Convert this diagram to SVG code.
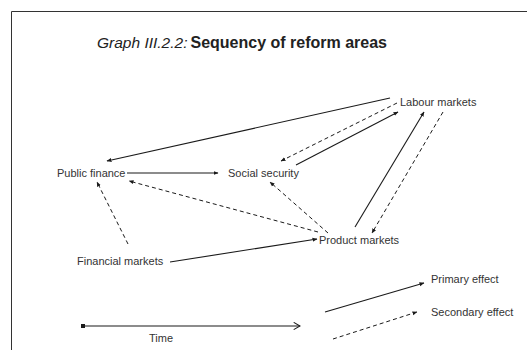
<svg xmlns="http://www.w3.org/2000/svg" width="527" height="350" viewBox="0 0 527 350">
<style>
.lbl{font-family:"Liberation Sans",Arial,sans-serif;font-size:11px;fill:#333}
.s{stroke:#1a1a1a;stroke-width:1.1;fill:none;marker-end:url(#ah)}
.d{stroke:#1a1a1a;stroke-width:1;fill:none;stroke-dasharray:4 3;marker-end:url(#ah)}
</style>
<defs>
<marker id="ah" viewBox="0 0 10 10" refX="9" refY="5" markerWidth="5" markerHeight="5" markerUnits="userSpaceOnUse" orient="auto">
<path d="M0,1 L10,5 L0,9 Z" fill="#1a1a1a"/>
</marker>
<marker id="vh" viewBox="0 0 10 10" refX="9" refY="5" markerWidth="9" markerHeight="9" markerUnits="userSpaceOnUse" orient="auto">
<path d="M2,1 L9,5 L2,9" fill="none" stroke="#1a1a1a" stroke-width="1.2"/>
</marker>
<marker id="dot" viewBox="0 0 10 10" refX="5" refY="5" markerWidth="4" markerHeight="4" markerUnits="userSpaceOnUse">
<rect x="0" y="0" width="10" height="10" fill="#1a1a1a"/>
</marker>
</defs>
<rect width="527" height="350" fill="#fff"/>
<path d="M11.5,350 V11.5 H527" fill="none" stroke="#333" stroke-width="1"/>
<text x="97" y="48" font-family="'Liberation Sans',Arial,sans-serif" fill="#222"><tspan font-style="italic" font-size="15.5">Graph III.2.2:</tspan><tspan font-weight="bold" font-size="16" dx="3">Sequency of reform areas</tspan></text>
<g id="connectors">
<line class="s" x1="390" y1="98" x2="107" y2="161"/>
<line class="d" x1="397" y1="103" x2="281" y2="161"/>
<line class="s" x1="296" y1="165" x2="398" y2="112"/>
<line class="s" x1="127" y1="173" x2="218" y2="173"/>
<line class="d" x1="318" y1="232" x2="129" y2="181"/>
<line class="d" x1="328" y1="233" x2="270" y2="182"/>
<line class="s" x1="355" y1="227" x2="424" y2="112"/>
<line class="d" x1="443" y1="112" x2="372" y2="233"/>
<line class="d" x1="128" y1="244" x2="97" y2="182"/>
<line class="s" x1="170" y1="262" x2="317" y2="239"/>
<line x1="83" y1="326" x2="300" y2="326" stroke="#1a1a1a" stroke-width="1.1" marker-start="url(#dot)" marker-end="url(#vh)"/>
<line class="s" x1="325" y1="312" x2="424" y2="283"/>
<line class="d" x1="333" y1="339" x2="417" y2="312"/>
</g>
<g id="labour-markets"><text class="lbl" x="400" y="106">Labour markets</text></g>
<g id="public-finance"><text class="lbl" x="57" y="177">Public finance</text></g>
<g id="social-security"><text class="lbl" x="228" y="177">Social security</text></g>
<g id="product-markets"><text class="lbl" x="319" y="244">Product markets</text></g>
<g id="financial-markets"><text class="lbl" x="77" y="265">Financial markets</text></g>
<g id="time"><text class="lbl" x="149" y="342">Time</text></g>
<g id="primary-effect"><text class="lbl" x="431" y="283">Primary effect</text></g>
<g id="secondary-effect"><text class="lbl" x="431" y="316">Secondary effect</text></g>
</svg>
